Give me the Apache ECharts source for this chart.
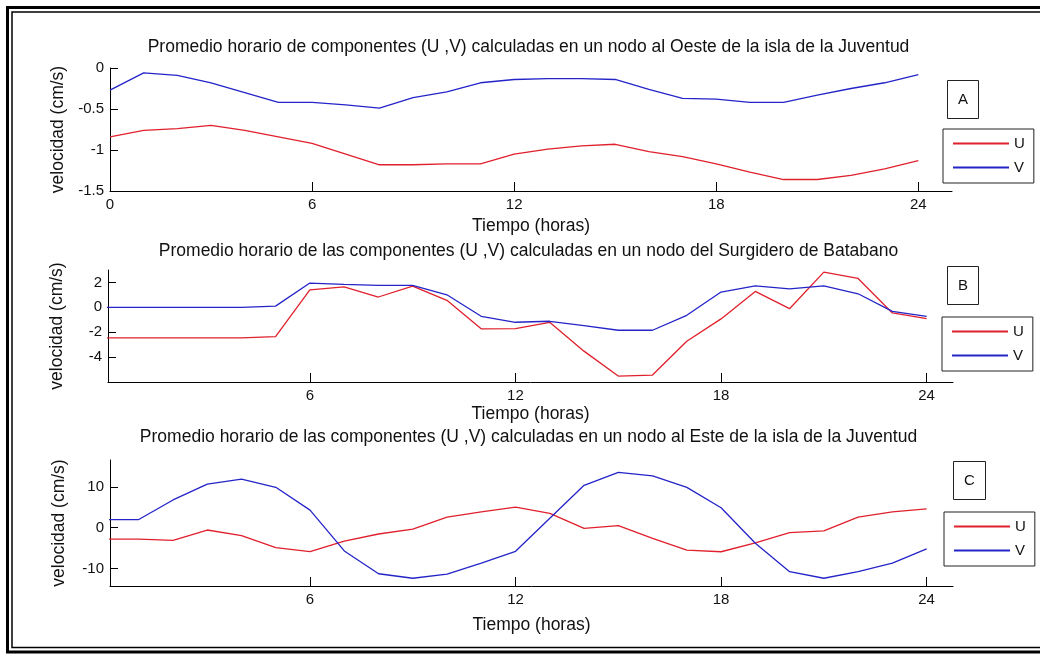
<!DOCTYPE html>
<html>
<head>
<meta charset="utf-8">
<script src="https://cdn.jsdelivr.net/npm/echarts@6/dist/echarts.min.js"></script>
<style>
html,body{margin:0;padding:0;background:#fff;}
#chart{width:1040px;height:656px;}
</style>
</head>
<body>
<div id="chart"></div>
<script>
// ---------- data ----------
const hours = [0,1,2,3,4,5,6,7,8,9,10,11,12,13,14,15,16,17,18,19,20,21,22,23,24];
const seriesNames = ['U', 'V'];
const titleA = 'Promedio horario de componentes (U ,V) calculadas en un nodo al Oeste de la isla de la Juventud';
const titleB = 'Promedio horario de las componentes (U ,V) calculadas en un nodo del Surgidero de Batabano';
const titleC = 'Promedio horario de las componentes (U ,V) calculadas en un nodo al Este de la isla de la Juventud';
const panelLetters = ['A', 'B', 'C'];
const xAxisName = 'Tiempo (horas)';
const yAxisName = 'velocidad (cm/s)';
const xTicksA = [0, 6, 12, 18, 24];
const xTicksBC = [6, 12, 18, 24];
const yTicksA = [-1.5, -1, -0.5, 0];
const yTicksB = [-4, -2, 0, 2];
const yTicksC = [-10, 0, 10];

const aU = [-0.84,-0.76,-0.74,-0.70,-0.76,-0.84,-0.92,-1.05,-1.18,-1.18,-1.17,-1.17,-1.05,-0.99,-0.95,-0.93,-1.02,-1.08,-1.17,-1.27,-1.36,-1.36,-1.31,-1.23,-1.13];
const aV = [-0.27,-0.06,-0.09,-0.18,-0.30,-0.42,-0.42,-0.45,-0.49,-0.36,-0.29,-0.18,-0.14,-0.13,-0.13,-0.14,-0.26,-0.37,-0.38,-0.42,-0.42,-0.33,-0.25,-0.18,-0.08];
const bU = [-2.45,-2.45,-2.45,-2.45,-2.45,-2.35,1.41,1.65,0.83,1.71,0.56,-1.73,-1.71,-1.20,-3.52,-5.52,-5.44,-2.72,-0.93,1.28,-0.11,2.83,2.32,-0.45,-0.91];
const bV = [0,0,0,0,0,0.10,1.95,1.84,1.76,1.76,1.01,-0.72,-1.20,-1.12,-1.47,-1.84,-1.84,-0.64,1.23,1.73,1.49,1.73,1.09,-0.32,-0.72];
const cU = [-2.8,-2.8,-3.1,-0.57,-1.96,-4.9,-5.88,-3.3,-1.55,-0.33,2.6,3.9,5.06,3.5,-0.16,0.5,-2.6,-5.5,-5.9,-3.7,-1.2,-0.8,2.6,3.9,4.6];
const cV = [2.0,2.0,6.8,10.7,11.9,9.9,4.3,-5.7,-11.3,-12.4,-11.4,-8.7,-5.8,2.3,10.4,13.55,12.7,9.9,4.9,-3.8,-10.8,-12.4,-10.8,-8.7,-5.2];

// ---------- styling ----------
const FONT = 'Liberation Sans, Arial, Helvetica, sans-serif';
const TXT = '#111';
const RED = '#e0202c';
const BLUE = '#2424c8';

const panels = [
  { grid:{left:110, top:68, width:842, height:123}, xmin:0, xmax:25, xt:xTicksA, ymin:-1.5, ymax:0, yt:yTicksA, xGap:26, title:titleA, titleTop:38, U:aU, V:aV,
    letter:{left:947, top:80}, legend:{left:943, top:129} },
  { grid:{left:108, top:270, width:845, height:112}, xmin:0.11, xmax:24.77, xt:xTicksBC, ymin:-6, ymax:3, yt:yTicksB, xGap:23, title:titleB, titleTop:242, U:bU, V:bV,
    letter:{left:947, top:266}, legend:{left:942, top:317} },
  { grid:{left:110, top:460, width:843, height:126}, xmin:0.16, xmax:24.77, xt:xTicksBC, ymin:-14.3, ymax:16.6, yt:yTicksC, xGap:30, title:titleC, titleTop:428, U:cU, V:cV,
    letter:{left:953, top:461}, legend:{left:944, top:512} }
];

const axisLine = { onZero:false, lineStyle:{ color:'#000', width:1 } };
const textStyle = { fontFamily:FONT, fontSize:15, color:TXT, fontWeight:'normal' };
const bigText = { fontFamily:FONT, fontSize:17.5, color:TXT, fontWeight:'normal' };

const option = {
  animation:false,
  backgroundColor:'#fff',
  title:[],
  legend:[],
  grid:[],
  xAxis:[],
  yAxis:[],
  series:[],
  graphic:[
    { type:'rect', silent:true, shape:{x:7.5, y:7.5, width:1040, height:644.5}, style:{fill:'none', stroke:'#000', lineWidth:3} },
    { type:'rect', silent:true, shape:{x:12, y:12, width:1040, height:635.5}, style:{fill:'none', stroke:'#000', lineWidth:1.5} }
  ]
};

panels.forEach((p, i) => {
  option.grid.push(Object.assign({ containLabel:false }, p.grid));
  option.title.push({ text:p.title, left:528.5, top:p.titleTop, textAlign:'center', padding:0, textStyle:Object.assign({}, bigText) });
  option.title.push({ text:panelLetters[i], left:p.letter.left, top:p.letter.top, padding:[12,11,12,11],
    borderColor:'#222', borderWidth:1, textStyle:Object.assign({}, textStyle) });
  option.legend.push({ data:seriesNames, orient:'vertical', left:p.legend.left, top:p.legend.top,
    padding:[7,9,8,10], itemGap:9, itemWidth:56, itemHeight:2, itemTextGap:6, icon:'rect',
    borderColor:'#222', borderWidth:1, selectedMode:false, textStyle:Object.assign({}, textStyle) });
  option.xAxis.push({
    gridIndex:i, type:'value', min:p.xmin, max:p.xmax,
    axisLine:axisLine,
    axisTick:{ show:true, inside:true, length:9, customValues:p.xt, lineStyle:{ color:'#000' } },
    axisLabel:{ customValues:p.xt, margin:6, fontFamily:FONT, fontSize:15, color:TXT },
    splitLine:{ show:false },
    name:xAxisName, nameLocation:'middle', nameGap:p.xGap, nameTextStyle:Object.assign({}, bigText)
  });
  option.yAxis.push({
    gridIndex:i, type:'value', min:p.ymin, max:p.ymax,
    axisLine:axisLine,
    axisTick:{ show:true, inside:true, length:8, customValues:p.yt, lineStyle:{ color:'#000' } },
    axisLabel:{ customValues:p.yt, margin:6, fontFamily:FONT, fontSize:15, color:TXT },
    splitLine:{ show:false },
    name:yAxisName, nameLocation:'middle', nameGap:42, nameTextStyle:Object.assign({}, bigText)
  });
  [['U', p.U, RED], ['V', p.V, BLUE]].forEach(([name, vals, col]) => {
    option.series.push({
      name:name, type:'line', xAxisIndex:i, yAxisIndex:i,
      data:hours.map((h, k) => [h, vals[k]]),
      symbol:'none', showSymbol:false, color:col,
      lineStyle:{ color:col, width:1.3 }, clip:true
    });
  });
});

const chart = echarts.init(document.getElementById('chart'), null, { renderer:'canvas' });
chart.setOption(option);
</script>
</body>
</html>
